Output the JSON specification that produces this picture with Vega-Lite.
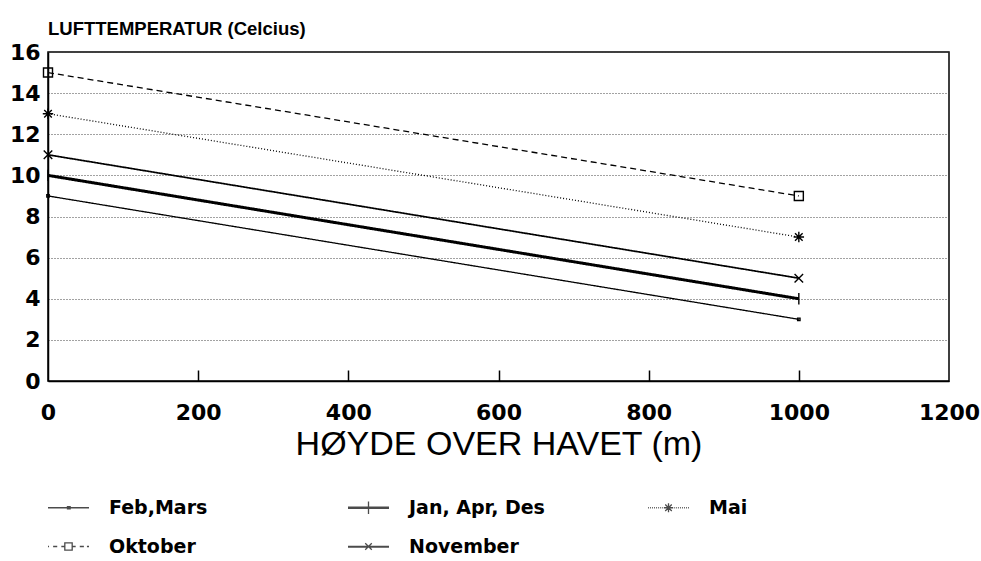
{
  "$schema": "https://vega.github.io/schema/vega-lite/v6.json",
  "width": 901,
  "height": 329,
  "autosize": {"type": "none"},
  "padding": {"left": 48, "top": 52, "right": 32, "bottom": 180},
  "background": "white",
  "config": {
    "font": "Liberation Sans",
    "view": {"stroke": "black", "strokeWidth": 1.5}
  },
  "title": {
    "text": "LUFTTEMPERATUR (Celcius)",
    "anchor": "start",
    "frame": "group",
    "offset": 3,
    "font": "Liberation Sans",
    "fontSize": 18.5,
    "fontWeight": "bold",
    "color": "black"
  },
  "data": {
    "values": [
      {"series": "Feb,Mars", "x": 0, "y": 9},
      {"series": "Feb,Mars", "x": 1000, "y": 3},
      {"series": "Jan, Apr, Des", "x": 0, "y": 10},
      {"series": "Jan, Apr, Des", "x": 1000, "y": 4},
      {"series": "Mai", "x": 0, "y": 13},
      {"series": "Mai", "x": 1000, "y": 7},
      {"series": "Oktober", "x": 0, "y": 15},
      {"series": "Oktober", "x": 1000, "y": 9},
      {"series": "November", "x": 0, "y": 11},
      {"series": "November", "x": 1000, "y": 5}
    ]
  },
  "resolve": {"axis": {"x": "independent"}, "scale": {"shape": "independent"}},
  "encoding": {
    "y": {
      "field": "y",
      "type": "quantitative",
      "scale": {"domain": [0, 16], "nice": false},
      "axis": {
        "values": [0, 2, 4, 6, 8, 10, 12, 14, 16],
        "grid": true,
        "gridColor": "#444",
        "gridDash": [1, 2],
        "gridWidth": 1,
        "domainColor": "black",
        "domainWidth": 1.5,
        "ticks": false,
        "labelFont": "DejaVu Sans",
        "labelFontSize": 22,
        "labelFontWeight": "bold",
        "labelColor": "black",
        "labelPadding": 8,
        "title": null
      }
    }
  },
  "layer": [
    {
      "mark": {"type": "line", "color": "black"},
      "encoding": {
        "x": {
          "field": "x",
          "type": "quantitative",
          "scale": {"domain": [0, 1200], "nice": false},
          "axis": {
            "values": [0, 200, 400, 600, 800, 1000, 1200],
            "format": "d",
            "grid": false,
            "labelFlush": false,
            "domainColor": "black",
            "domainWidth": 1.5,
            "ticks": false,
            "labelFont": "DejaVu Sans",
            "labelFontSize": 22,
            "labelFontWeight": "bold",
            "labelColor": "black",
            "labelPadding": 21,
            "title": "HØYDE OVER HAVET (m)",
            "titleFont": "Liberation Sans",
            "titleFontSize": 34,
            "titleFontWeight": "normal",
            "titleColor": "black",
            "titlePadding": 4
          }
        },
        "strokeDash": {
          "field": "series",
          "type": "nominal",
          "scale": {
            "domain": ["Feb,Mars", "Jan, Apr, Des", "Mai", "Oktober", "November"],
            "range": [[1, 0], [1, 0], [1, 2], [6, 4], [1, 0]]
          },
          "legend": null
        },
        "strokeWidth": {
          "condition": [
            {"test": "datum.series === 'Jan, Apr, Des'", "value": 3},
            {"test": "datum.series === 'November'", "value": 1.7}
          ],
          "value": 1.3
        }
      }
    },
    {
      "mark": {"type": "point", "filled": false, "color": "black", "strokeWidth": 1.4, "size": 90, "opacity": 1},
      "encoding": {
        "x": {
          "field": "x",
          "type": "quantitative",
          "scale": {"domain": [0, 1200], "nice": false},
          "axis": {
            "orient": "bottom",
            "offset": -11,
            "values": [200, 400, 600, 800, 1000],
            "tickSize": 11,
            "tickWidth": 1.5,
            "tickColor": "black",
            "labels": false,
            "domain": false,
            "grid": false,
            "title": null
          }
        },
        "shape": {
          "field": "series",
          "type": "nominal",
          "scale": {
            "domain": ["Feb,Mars", "Jan, Apr, Des", "Mai", "Oktober", "November"],
            "range": [
              "M-0.25,-0.25L0.25,-0.25L0.25,0.25L-0.25,0.25Z",
              "M0,-1.2L0,1.2",
              "M-1.1,0L1.1,0M0,-1.1L0,1.1M-0.8,-0.8L0.8,0.8M-0.8,0.8L0.8,-0.8",
              "M-0.95,-0.95L0.95,-0.95L0.95,0.95L-0.95,0.95Z",
              "M-0.9,-0.9L0.9,0.9M-0.9,0.9L0.9,-0.9"
            ]
          },
          "legend": null
        }
      }
    },
    {
      "transform": [{"filter": "false"}],
      "mark": {"type": "point", "filled": false, "color": "black", "strokeWidth": 1.3},
      "encoding": {
        "x": {
          "field": "x",
          "type": "quantitative",
          "scale": {"domain": [0, 1200], "nice": false},
          "axis": null
        },
        "shape": {
          "field": "series",
          "type": "nominal",
          "scale": {
            "domain": ["Feb,Mars", "Oktober", "Jan, Apr, Des", "November", "Mai"],
            "range": [
              "M-1,0L1,0M-0.05,-0.05L0.08,-0.05L0.08,0.05L-0.05,0.05Z",
              "M-1,0L-0.95,0M-0.75,0L-0.55,0M-0.35,0L-0.18,0M-0.18,-0.18L0.18,-0.18L0.18,0.18L-0.18,0.18ZM0.18,0L0.35,0M0.55,0L0.75,0M0.9,0L1,0",
              "M-1,-0.035L1,-0.035M-1,0L1,0M-1,0.035L1,0.035M0,-0.3L0,0.3",
              "M-1,0L1,0M-1,0.03L1,0.03M-0.16,-0.16L0.16,0.16M-0.16,0.16L0.16,-0.16",
              "M-1,0L-0.96,0M-0.9,0L-0.86,0M-0.8,0L-0.76,0M-0.7,0L-0.66,0M-0.6,0L-0.56,0M-0.5,0L-0.46,0M-0.4,0L-0.36,0M-0.3,0L-0.26,0M0.26,0L0.3,0M0.36,0L0.4,0M0.46,0L0.5,0M0.56,0L0.6,0M0.66,0L0.7,0M0.76,0L0.8,0M0.86,0L0.9,0M0.96,0L1,0M-0.22,0L0.22,0M0,-0.22L0,0.22M-0.16,-0.16L0.16,0.16M-0.16,0.16L0.16,-0.16"
            ]
          },
          "legend": {
            "title": null,
            "orient": "none",
            "legendX": -1,
            "legendY": 434,
            "columns": 3,
            "gridAlign": "all",
            "padding": 0,
            "symbolSize": 1681,
            "symbolStrokeColor": "black",
            "symbolStrokeWidth": 1.3,
            "symbolFillColor": "transparent",
            "labelFont": "DejaVu Sans",
            "labelFontSize": 19,
            "labelFontWeight": "bold",
            "labelColor": "black",
            "labelOffset": 19,
            "labelLimit": 300,
            "rowPadding": 7,
            "columnPadding": 100
          }
        }
      }
    }
  ]
}
